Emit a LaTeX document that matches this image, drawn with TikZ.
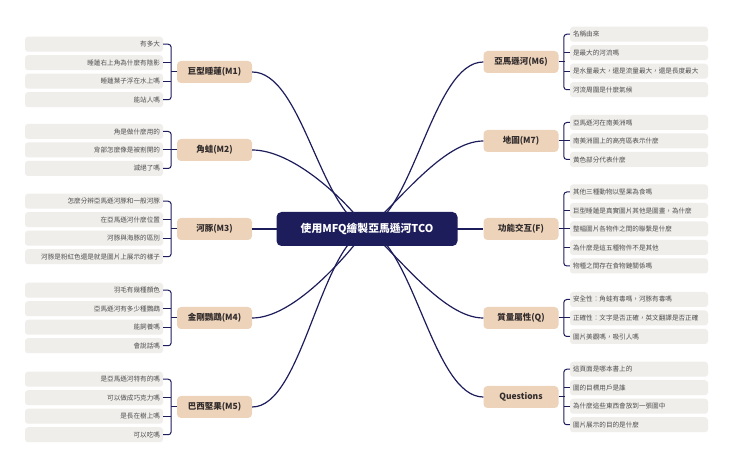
\documentclass[tikz,border=0pt]{standalone}
\usepackage{fontspec}
\setmainfont{Noto Sans CJK TC}
\definecolor{navy}{RGB}{30,29,92}
\definecolor{beige}{RGB}{236,211,186}
\definecolor{leafgray}{RGB}{240,238,235}
\definecolor{leaftext}{RGB}{80,78,78}
\definecolor{maintext}{RGB}{50,44,44}
\begin{document}
\begin{tikzpicture}[x=1pt,y=-1pt,
  leafL/.style={fill=leafgray, rounded corners=3pt, minimum height=15pt, text width=132pt, align=right, inner xsep=3pt, inner ysep=0pt, font=\fontsize{6.6}{7}\selectfont, text=leaftext},
  leafR/.style={leafL, align=left},
  branch/.style={fill=beige, rounded corners=4pt, minimum width=75pt, minimum height=22pt, inner sep=0pt, font=\fontsize{8.5}{10}\selectfont\bfseries, text=maintext},
  hub/.style={fill=navy, rounded corners=5pt, minimum width=181pt, minimum height=34pt, inner sep=0pt, font=\fontsize{10.8}{12}\selectfont\bfseries, text=white},
  conn/.style={draw=navy, line width=1.2pt},
  brace/.style={draw=navy, line width=1pt, rounded corners=3pt}]
\useasboundingbox[fill=white] (0,0) rectangle (740,465);
\coordinate (ctr) at (367,229);
% branch nodes
\node[branch] (m1) at (214.5,72) {巨型睡蓮(M1)};
\node[branch] (m2) at (214.5,150) {角蛙(M2)};
\node[branch] (m3) at (214.5,229) {河豚(M3)};
\node[branch] (m4) at (214.5,318) {金剛鸚鵡(M4)};
\node[branch] (m5) at (214.5,407) {巴西堅果(M5)};
\node[branch] (m6) at (521,62) {亞馬遜河(M6)};
\node[branch] (m7) at (521,141) {地圖(M7)};
\node[branch] (mf) at (521,229) {功能交互(F)};
\node[branch] (mq) at (521,318) {質量屬性(Q)};
\node[branch] (mx) at (521,397) {Questions};
% main connectors
\draw[conn] (ctr) .. controls +(-47,-17) and +(50,0) .. (m1.east);
\draw[conn] (ctr) .. controls +(-24,-32) and +(40,0) .. (m2.east);
\draw[conn] (ctr) -- (m3.east);
\draw[conn] (ctr) .. controls +(-24,32) and +(40,0) .. (m4.east);
\draw[conn] (ctr) .. controls +(-47,17) and +(50,0) .. (m5.east);
\draw[conn] (ctr) .. controls +(47,-17) and +(-50,0) .. (m6.west);
\draw[conn] (ctr) .. controls +(31,-26) and +(-40,0) .. (m7.west);
\draw[conn] (ctr) -- (mf.west);
\draw[conn] (ctr) .. controls +(31,26) and +(-40,0) .. (mq.west);
\draw[conn] (ctr) .. controls +(47,17) and +(-50,0) .. (mx.west);
\node[hub] (c) at (ctr) {使用MFQ繪製亞馬遜河TCO};
% left leaves
\node[leafL] (m1a) at (94,44.25) {有多大};
\node[leafL] (m1b) at (94,62.75) {睡蓮右上角為什麼有陰影};
\node[leafL] (m1c) at (94,81.25) {睡蓮葉子浮在水上嗎};
\node[leafL] (m1d) at (94,99.75) {能站人嗎};
\node[leafL] (m2a) at (94,131.5) {角是做什麼用的};
\node[leafL] (m2b) at (94,150) {背部怎麼像是被割開的};
\node[leafL] (m2c) at (94,168.5) {滅絕了嗎};
\node[leafL] (m3a) at (94,201.25) {怎麼分辨亞馬遜河豚和一般河豚};
\node[leafL] (m3b) at (94,219.75) {在亞馬遜河什麼位置};
\node[leafL] (m3c) at (94,238.25) {河豚與海豚的區別};
\node[leafL] (m3d) at (94,256.75) {河豚是粉紅色還是就是圖片上展示的樣子};
\node[leafL] (m4a) at (94,290.25) {羽毛有幾種顏色};
\node[leafL] (m4b) at (94,308.75) {亞馬遜河有多少種鸚鵡};
\node[leafL] (m4c) at (94,327.25) {能飼養嗎};
\node[leafL] (m4d) at (94,345.75) {會說話嗎};
\node[leafL] (m5a) at (94,379.25) {是亞馬遜河特有的嗎};
\node[leafL] (m5b) at (94,397.75) {可以做成巧克力嗎};
\node[leafL] (m5c) at (94,416.25) {是長在樹上嗎};
\node[leafL] (m5d) at (94,434.75) {可以吃嗎};
% right leaves
\node[leafR] (m6a) at (639,34.25) {名稱由來};
\node[leafR] (m6b) at (639,52.75) {是最大的河流嗎};
\node[leafR] (m6c) at (639,71.25) {是水量最大，還是流量最大，還是長度最大};
\node[leafR] (m6d) at (639,89.75) {河流周圍是什麼氣候};
\node[leafR] (m7a) at (639,122.5) {亞馬遜河在南美洲嗎};
\node[leafR] (m7b) at (639,141) {南美洲圖上的高亮區表示什麼};
\node[leafR] (m7c) at (639,159.5) {黃色部分代表什麼};
\node[leafR] (mfa) at (639,192) {其他三種動物以堅果為食嗎};
\node[leafR] (mfb) at (639,210.5) {巨型睡蓮是真實圖片其他是圖畫，為什麼};
\node[leafR] (mfc) at (639,229) {整幅圖片各物件之間的聯繫是什麼};
\node[leafR] (mfd) at (639,247.5) {為什麼是這五種物件不是其他};
\node[leafR] (mfe) at (639,266) {物種之間存在食物鏈關係嗎};
\node[leafR] (mqa) at (639,299.5) {安全性：角蛙有毒嗎，河豚有毒嗎};
\node[leafR] (mqb) at (639,318) {正確性：文字是否正確，英文翻譯是否正確};
\node[leafR] (mqc) at (639,336.5) {圖片美觀嗎，吸引人嗎};
\node[leafR] (mxa) at (639,369.25) {這頁面是哪本書上的};
\node[leafR] (mxb) at (639,387.75) {圖的目標用戶是誰};
\node[leafR] (mxc) at (639,406.25) {為什麼這些東西會放到一張圖中};
\node[leafR] (mxd) at (639,424.75) {圖片展示的目的是什麼};
% left braces
\draw[brace] (m1a.east) -- ++(8,0) |- (m1d.east);
\draw[brace] (m1b.east) -- ++(8,0) (m1c.east) -- ++(8,0) (m1.west) -- ++(-6,0);
\draw[brace] (m2a.east) -- ++(8,0) |- (m2c.east);
\draw[brace] (m2b.east) -- ++(8,0) (m2.west) -- ++(-6,0);
\draw[brace] (m3a.east) -- ++(8,0) |- (m3d.east);
\draw[brace] (m3b.east) -- ++(8,0) (m3c.east) -- ++(8,0) (m3.west) -- ++(-6,0);
\draw[brace] (m4a.east) -- ++(8,0) |- (m4d.east);
\draw[brace] (m4b.east) -- ++(8,0) (m4c.east) -- ++(8,0) (m4.west) -- ++(-6,0);
\draw[brace] (m5a.east) -- ++(8,0) |- (m5d.east);
\draw[brace] (m5b.east) -- ++(8,0) (m5c.east) -- ++(8,0) (m5.west) -- ++(-6,0);
% right braces
\draw[brace] (m6a.west) -- ++(-6,0) |- (m6d.west);
\draw[brace] (m6b.west) -- ++(-6,0) (m6c.west) -- ++(-6,0) (m6.east) -- ++(6,0);
\draw[brace] (m7a.west) -- ++(-6,0) |- (m7c.west);
\draw[brace] (m7b.west) -- ++(-6,0) (m7.east) -- ++(6,0);
\draw[brace] (mfa.west) -- ++(-6,0) |- (mfe.west);
\draw[brace] (mfb.west) -- ++(-6,0) (mfc.west) -- ++(-6,0) (mfd.west) -- ++(-6,0) (mf.east) -- ++(6,0);
\draw[brace] (mqa.west) -- ++(-6,0) |- (mqc.west);
\draw[brace] (mqb.west) -- ++(-6,0) (mq.east) -- ++(6,0);
\draw[brace] (mxa.west) -- ++(-6,0) |- (mxd.west);
\draw[brace] (mxb.west) -- ++(-6,0) (mxc.west) -- ++(-6,0) (mx.east) -- ++(6,0);
\end{tikzpicture}
\end{document}
